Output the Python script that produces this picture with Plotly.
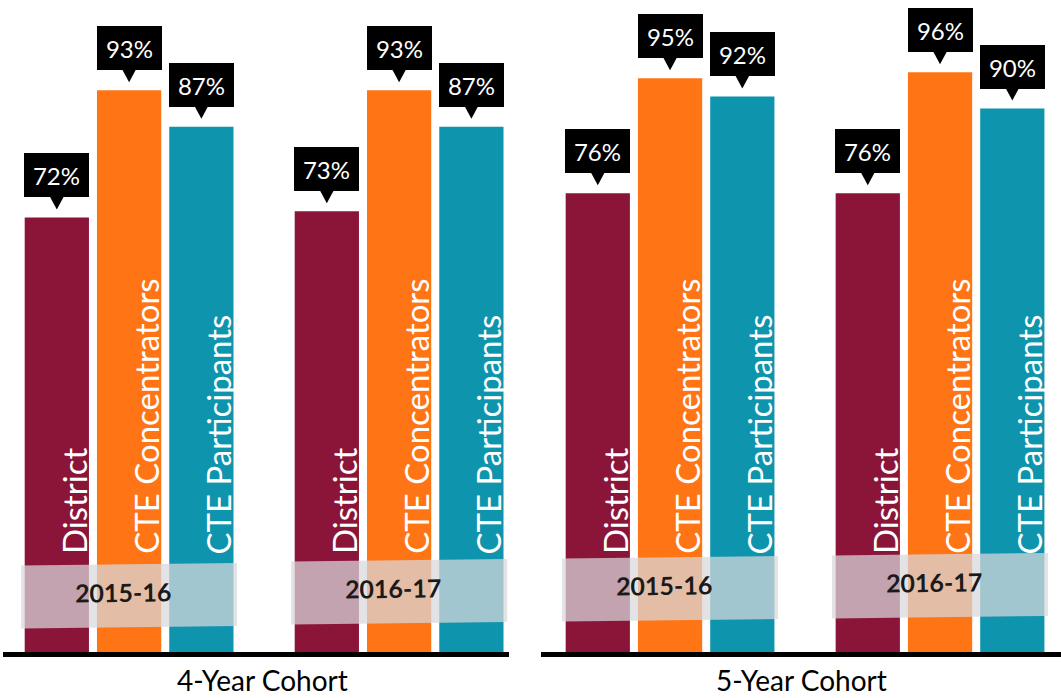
import plotly.graph_objects as go

# Graduation rates by cohort, school year and student group
cohorts = ["4-Year Cohort", "5-Year Cohort"]
years = ["2015-16", "2016-17"]
series = ["District", "CTE Concentrators", "CTE Participants"]
colors = ["#8A1538", "#FF7415", "#0F94AD"]

district = [[72, 73], [76, 76]]
concentrators = [[93, 93], [95, 96]]
participants = [[87, 87], [92, 90]]
values = [district, concentrators, participants]

FONT = "Lato"
BARGAP = 0.197
BARGROUPGAP = 0.111
SLOT = (1 - BARGAP) / len(series)   # width of one bar slot in axis units

# height (px above the baseline) of the centre of each year banner
band_lift = [[57, 61], [64, 67]]

W, H = 1061, 698
PLOT_H = 653  # pixel height of the plotting area

fig = go.Figure()
axes = [("x", "y"), ("x2", "y2")]
annotations = []
shapes = []

for p, (xa, ya) in enumerate(axes):
    group_pos = list(range(len(years)))
    for s, name in enumerate(series):
        fig.add_trace(go.Bar(
            x=group_pos, y=values[s][p], name=name,
            marker=dict(color=colors[s], line=dict(width=0)),
            xaxis=xa, yaxis=ya, offsetgroup=str(s), showlegend=False,
            hovertemplate=name + ": %{y}%<extra></extra>",
        ))
        for g in group_pos:
            bx = g + (s - 1) * SLOT
            v = values[s][p][g]
            # black value callout with a pointer towards the bar
            annotations.append(dict(
                x=bx, y=v, xref=xa, yref=ya, text=f"{v}%", showarrow=False,
                yanchor="bottom", yshift=20, width=65, height=44,
                bgcolor="black", borderpad=0, borderwidth=0,
                font=dict(family=FONT, size=24, color="white"),
            ))
            shapes.append(dict(
                type="path", xref=xa, yref=ya, xsizemode="pixel", ysizemode="pixel",
                xanchor=bx, yanchor=v, path="M -7 21 L 7 21 L 0 8 Z",
                fillcolor="black", line=dict(width=0), layer="above",
            ))
            # series name written up the bar
            annotations.append(dict(
                x=bx, y=16, xref=xa, yref=ya, text=name, showarrow=False,
                textangle=-90, yanchor="bottom", xanchor="center", xshift=17,
                font=dict(family=FONT, size=33, color="white"),
            ))
    # translucent year banners across each group
    for g in range(len(years)):
        L = band_lift[p][g]
        path = (f"M -108 {L - 32.5} L 108 {L - 30} "
                f"L 108 {L + 33} L -108 {L + 30.5} Z")
        shapes.append(dict(
            type="path", xref=xa, yref=ya, xsizemode="pixel", ysizemode="pixel",
            xanchor=g, yanchor=0, path=path,
            fillcolor="rgba(217,217,219,0.73)", line=dict(width=0), layer="above",
        ))
        annotations.append(dict(
            x=g, y=0, xref=xa, yref=ya, text=years[g], showarrow=False,
            yanchor="middle", yshift=L + 4, xshift=-6, textangle=-0.7,
            font=dict(family=FONT, size=25, color="#1a1a1a", weight="bold"),
        ))
    # baseline and cohort caption
    shapes.append(dict(
        type="rect", xref=f"{xa} domain", yref="paper", x0=0, x1=1,
        y0=-4 / PLOT_H, y1=1 / PLOT_H,
        fillcolor="black", line=dict(width=0), layer="above",
    ))
    annotations.append(dict(
        x=0.5, y=0, xref=f"{xa} domain", yref="paper", text=cohorts[p],
        showarrow=False, yanchor="top", yshift=-8, xshift=6 if p == 0 else 0,
        font=dict(family=FONT, size=28, color="black"),
    ))

axis_style = dict(visible=False, showgrid=False, zeroline=False, fixedrange=True)
y_top = PLOT_H / 6.05

fig.update_layout(
    width=W, height=H,
    margin=dict(l=0, r=0, t=0, b=H - PLOT_H),
    paper_bgcolor="white", plot_bgcolor="white",
    barmode="group", bargap=BARGAP, bargroupgap=BARGROUPGAP,
    xaxis=dict(domain=[3 / W, 509 / W], range=[-0.467, 1.407], **axis_style),
    xaxis2=dict(domain=[541 / W, 1.0], range=[-0.478, 1.448], **axis_style),
    yaxis=dict(range=[0, y_top], anchor="x", **axis_style),
    yaxis2=dict(range=[0, y_top], anchor="x2", **axis_style),
    annotations=annotations,
    shapes=shapes,
)

fig.write_html("out.html")
